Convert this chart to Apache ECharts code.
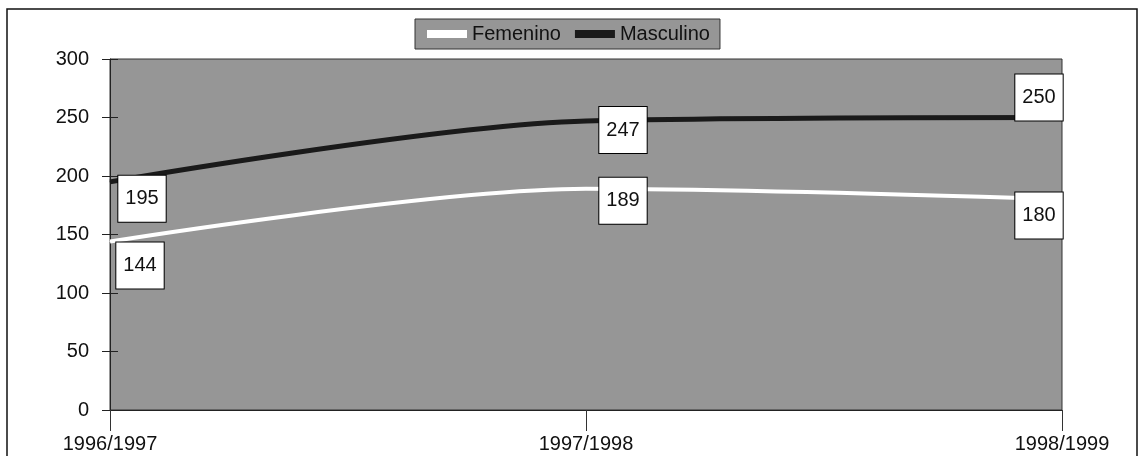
<!DOCTYPE html>
<html>
<head>
<meta charset="utf-8">
<script src="https://cdn.jsdelivr.net/npm/echarts@6/dist/echarts.min.js"></script>
<style>
html,body{margin:0;padding:0;background:#fff;}
#chart{width:1143px;height:456px;}
</style>
</head>
<body>
<div id="chart"></div>
<script>
const categories = ['1996/1997', '1997/1998', '1998/1999'];
const femenino = [144, 189, 180];
const masculino = [195, 247, 250];
const seriesNames = ['Femenino', 'Masculino'];

// label placement offsets (style only)
const femOffsets = [[30, 24], [37, 12], [-23, 16]];
const mascOffsets = [[32, 17], [37, 9], [-23, -20]];

const FONT = 'Liberation Sans';
const labelStyle = {
  show: true,
  position: 'inside',
  color: '#111',
  fontFamily: FONT,
  fontSize: 20,
  lineHeight: 16,
  backgroundColor: '#fff',
  borderColor: '#000',
  borderWidth: 1,
  padding: [15, 7, 15, 7],
  formatter: p => String(p.value)
};

function build(values, offsets) {
  return values.map((v, i) => ({
    value: v,
    label: Object.assign({}, labelStyle, { offset: offsets[i] })
  }));
}

const chart = echarts.init(document.getElementById('chart'), null, { renderer: 'canvas' });
chart.setOption({
  animation: false,
  backgroundColor: '#fff',
  textStyle: { fontFamily: FONT },
  graphic: [{
    type: 'rect',
    shape: { x: 7, y: 9, width: 1130, height: 470 },
    style: { fill: 'none', stroke: '#111', lineWidth: 1.5 },
    z: -10
  }],
  legend: {
    data: seriesNames,
    left: 415,
    top: 19,
    padding: [5, 10, 5, 12],
    itemGap: 14,
    itemWidth: 40,
    itemHeight: 8,
    icon: 'rect',
    backgroundColor: '#969696',
    borderColor: '#333',
    borderWidth: 1,
    textStyle: { color: '#111', fontFamily: FONT, fontSize: 20, lineHeight: 19 }
  },
  grid: {
    left: 110, right: 81, top: 59, bottom: 46,
    show: true,
    backgroundColor: '#969696',
    borderColor: '#333',
    borderWidth: 1
  },
  xAxis: {
    type: 'category',
    data: categories,
    boundaryGap: false,
    axisLine: { lineStyle: { color: '#222', width: 1 } },
    axisTick: { show: true, length: 21, alignWithLabel: true, lineStyle: { color: '#333' } },
    axisLabel: { color: '#111', fontFamily: FONT, fontSize: 20, margin: 24 },
    splitLine: { show: false }
  },
  yAxis: [{
    type: 'value',
    min: 0, max: 300, interval: 50,
    axisLine: { show: true, lineStyle: { color: '#222', width: 1 } },
    axisTick: { show: true, length: 8, lineStyle: { color: '#222' } },
    axisLabel: { color: '#111', fontFamily: FONT, fontSize: 20, margin: 21 },
    splitLine: { show: false }
  }, {
    type: 'value',
    position: 'left',
    min: 0, max: 300, interval: 50,
    axisLine: { show: false },
    axisTick: { show: true, inside: true, length: 8, lineStyle: { color: '#222' } },
    axisLabel: { show: false },
    splitLine: { show: false }
  }],
  series: [{
    name: seriesNames[0],
    type: 'line',
    smooth: 0.3,
    data: build(femenino, femOffsets),
    symbol: 'circle',
    symbolSize: 1,
    color: '#ffffff',
    itemStyle: { color: '#ffffff' },
    lineStyle: { color: '#ffffff', width: 4 },
    z: 2
  }, {
    name: seriesNames[1],
    type: 'line',
    smooth: 0.3,
    data: build(masculino, mascOffsets),
    symbol: 'circle',
    symbolSize: 1,
    color: '#1a1a1a',
    itemStyle: { color: '#1a1a1a' },
    lineStyle: { color: '#1a1a1a', width: 5 },
    z: 3
  }]
});
</script>
</body>
</html>
